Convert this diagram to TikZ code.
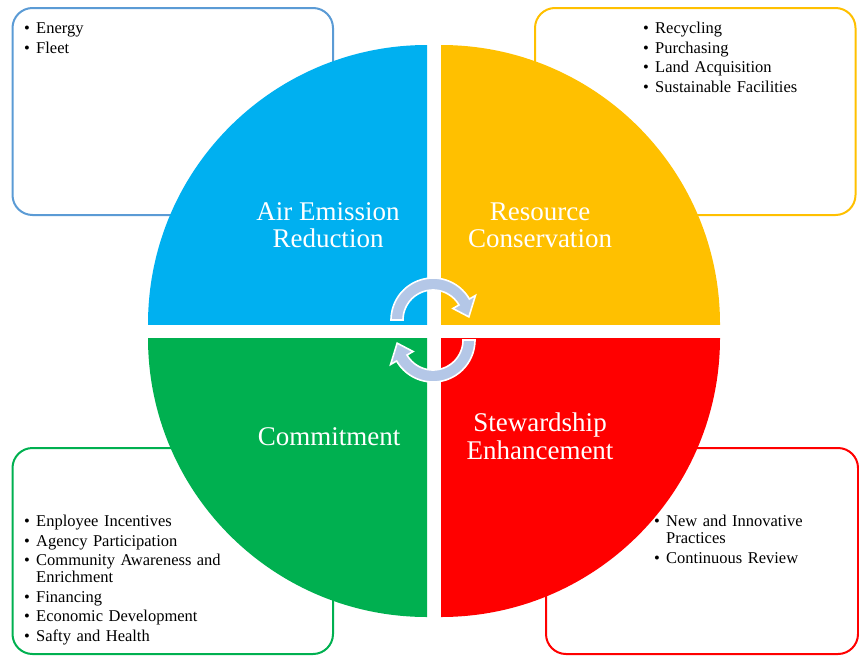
\documentclass[tikz,border=0pt]{standalone}
\usepackage{fontspec}
\setmainfont{Liberation Serif}
\definecolor{boxblue}{HTML}{5B9BD5}
\definecolor{cblue}{HTML}{00B0F0}
\definecolor{corange}{HTML}{FFC000}
\definecolor{cgreen}{HTML}{00B050}
\definecolor{cred}{HTML}{FF0000}
\definecolor{carrow}{HTML}{B4C7E7}
\newcommand{\bitem}[1]{\par\noindent\hangindent=12pt\hangafter=1\strut\makebox[12pt][l]{\textbullet}#1\par}
\tikzset{
  boxline/.style={line width=2pt, rounded corners=20pt},
  quadlabel/.style={anchor=base, inner sep=0pt, text=white, font=\fontsize{27}{30}\selectfont},
  listnode/.style={anchor=north west, inner sep=0pt, text width=#1, align=left, font=\fontsize{16.5}{17}\selectfont},
  cyclearrow/.style={fill=carrow, draw=white, line width=1.6pt, line join=miter}
}
\begin{document}
\begin{tikzpicture}[x=1pt,y=-1pt]
\useasboundingbox (0,0) rectangle (859,656);
% side boxes
\draw[boxline, draw=boxblue] (12.5,8) rectangle (333,215);
\draw[boxline, draw=corange] (535,8) rectangle (855.5,215);
\draw[boxline, draw=cgreen] (12.5,448) rectangle (333,654);
\draw[boxline, draw=cred] (546,448) rectangle (858,654);
% quadrants
\begin{scope}\clip (0,0) rectangle (427,324); \fill[cblue] (427,324) circle[radius=279]; \end{scope}
\begin{scope}\clip (441,0) rectangle (859,324); \fill[corange] (441,324) circle[radius=279]; \end{scope}
\begin{scope}\clip (0,338) rectangle (427,656); \fill[cgreen] (427,338) circle[radius=279]; \end{scope}
\begin{scope}\clip (441,338) rectangle (859,656); \fill[cred] (441,338) circle[radius=279]; \end{scope}
% cycle arrows
\begin{scope}[shift={(433,320)}]
\draw[cyclearrow] plot[domain=180:330, samples=40] (\x:42) -- (330:49) -- (355:36) -- (330:23) -- (330:30)
  -- plot[domain=330:180, samples=40] (\x:30) -- cycle;
\end{scope}
\begin{scope}[shift={(433,340)}]
\draw[cyclearrow] plot[domain=0:150, samples=40] (\x:42) -- (150:49) -- (175:36) -- (150:23) -- (150:30)
  -- plot[domain=150:0, samples=40] (\x:30) -- cycle;
\end{scope}
% quadrant labels
\node[quadlabel] (air1) at (328,220.5) {Air Emission};
\node[quadlabel] (air2) at (328,247) {Reduction};
\node[quadlabel] (res1) at (540,220.5) {Resource};
\node[quadlabel] (res2) at (540,247) {Conservation};
\node[quadlabel] (com) at (329,445.5) {Commitment};
\node[quadlabel] (ste1) at (540,431.5) {Stewardship};
\node[quadlabel] (ste2) at (540,459) {Enhancement};
% lists
\node[listnode=290pt] (l1) at (24,14) {\setlength{\parskip}{2.5pt}%
  \bitem{Energy}\bitem{Fleet}};
\node[listnode=200pt] (l2) at (643,14) {\setlength{\parskip}{2.5pt}%
  \bitem{Recycling}\bitem{Purchasing}\bitem{Land Acquisition}\bitem{Sustainable Facilities}};
\node[listnode=290pt] (l3) at (24,507) {\setlength{\parskip}{2.5pt}%
  \bitem{Enployee Incentives}\bitem{Agency Participation}\bitem{Community Awareness and\newline Enrichment}\bitem{Financing}\bitem{Economic Development}\bitem{Safty and Health}};
\node[listnode=190pt] (l4) at (654,507) {\setlength{\parskip}{2.5pt}%
  \bitem{New and Innovative\newline Practices}\bitem{Continuous Review}};
\end{tikzpicture}
\end{document}
